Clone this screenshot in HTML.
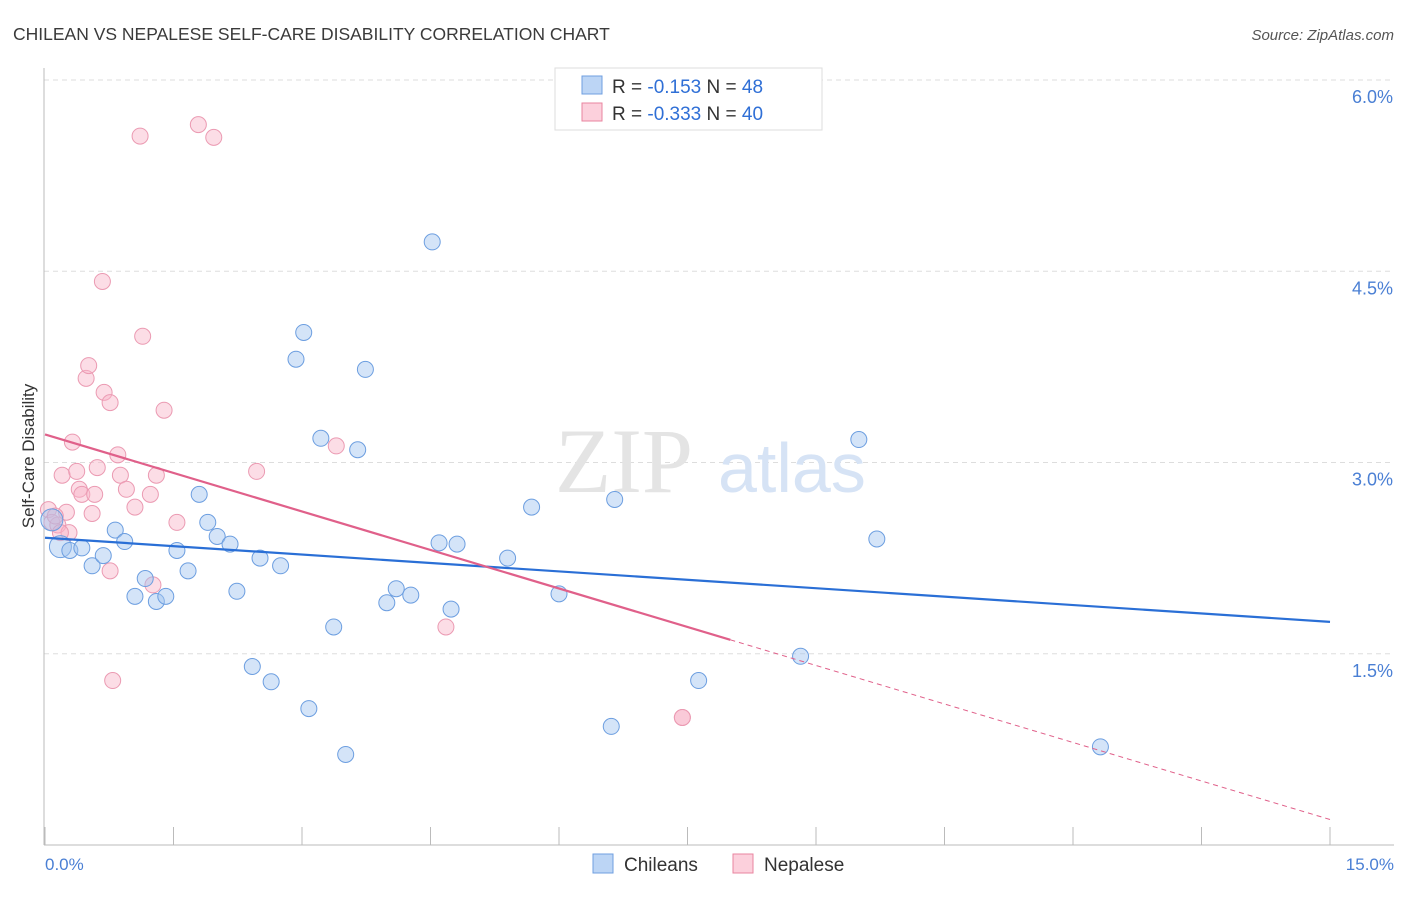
<!DOCTYPE html>
<html><head><meta charset="utf-8"><style>
body{margin:0;background:#fff;font-family:"Liberation Sans",sans-serif;}
</style></head><body>
<svg width="1406" height="892" xmlns="http://www.w3.org/2000/svg" style="font-family:'Liberation Sans',sans-serif">
<text x="13" y="40" font-size="17.5" fill="#3a3a3a">CHILEAN VS NEPALESE SELF-CARE DISABILITY CORRELATION CHART</text>
<text x="1394" y="40" font-size="15" fill="#555" font-style="italic" text-anchor="end">Source: ZipAtlas.com</text>
<g id="grid"></g>
<g><text x="555" y="492" font-size="92" fill="#e4e4e4" font-family="Liberation Serif,serif">ZIP</text><text x="718" y="492" font-size="70" fill="#d6e3f5">atlas</text></g>
<line x1="44" y1="68" x2="44" y2="845" stroke="#bbb"/>
<line x1="44" y1="845" x2="1394" y2="845" stroke="#bbb"/>
<g id="xticks"></g>
<g id="ylabels"></g>
<text x="45" y="870" font-size="17" fill="#4a7fd4">0.0%</text>
<text x="1394" y="870" font-size="17" fill="#4a7fd4" text-anchor="end">15.0%</text>
<text transform="translate(34,456) rotate(-90)" font-size="17" fill="#333" text-anchor="middle">Self-Care Disability</text>
<g id="pts"></g>
<g id="trends"></g>
<g>
<rect x="555" y="68" width="267" height="62" fill="#fff" stroke="#ddd"/>
<rect x="582" y="76" width="20" height="18" fill="#bcd5f5" stroke="#6f9fe0"/>
<rect x="582" y="103" width="20" height="18" fill="#fcd0dc" stroke="#e9849f"/>
<text x="612" y="93" font-size="19" fill="#333">R = <tspan fill="#2f6fd6">-0.153</tspan>   N = <tspan fill="#2f6fd6">48</tspan></text>
<text x="612" y="120" font-size="19" fill="#333">R = <tspan fill="#2f6fd6">-0.333</tspan>   N = <tspan fill="#2f6fd6">40</tspan></text>
</g>
<g>
<rect x="593" y="854" width="20" height="19" fill="#bcd5f5" stroke="#6f9fe0"/>
<text x="624" y="871" font-size="19" fill="#333">Chileans</text>
<rect x="733" y="854" width="20" height="19" fill="#fcd0dc" stroke="#e9849f"/>
<text x="764" y="871" font-size="19" fill="#333">Nepalese</text>
</g>
</svg>
<script>
const yTicks=[1.5,3.0,4.5,6.0];
const yTickLabels=["1.5%","3.0%","4.5%","6.0%"];
const xTicks=[0,1.5,3,4.5,6,7.5,9,10.5,12,13.5,15];
const blueX=[0.08,0.18,0.29,0.43,0.55,0.68,0.82,0.93,1.05,1.17,1.30,1.41,1.54,1.67,1.80,1.90,2.01,2.16,2.24,2.42,2.51,2.64,2.75,2.93,3.02,3.08,3.22,3.37,3.51,3.65,3.74,3.99,4.10,4.27,4.52,4.60,4.74,4.81,5.40,5.68,6.00,6.65,7.63,6.61,8.82,9.50,9.71,12.32];
const blueY=[2.55,2.34,2.31,2.33,2.19,2.27,2.47,2.38,1.95,2.09,1.91,1.95,2.31,2.15,2.75,2.53,2.42,2.36,1.99,1.40,2.25,1.28,2.19,3.81,4.02,1.07,3.19,1.71,0.71,3.10,3.73,1.90,2.01,1.96,4.73,2.37,1.85,2.36,2.25,2.65,1.97,2.71,1.29,0.93,1.48,3.18,2.40,0.77];
const pinkX=[0.04,0.08,0.15,0.20,0.25,0.28,0.32,0.37,0.40,0.43,0.48,0.51,0.55,0.58,0.61,0.67,0.69,0.76,0.76,0.79,0.85,0.88,0.95,1.05,1.11,1.14,1.23,1.26,1.30,1.39,1.54,1.79,1.97,2.47,3.40,4.68,7.44,7.44,0.18,0.12];
const pinkY=[2.63,2.53,2.51,2.90,2.61,2.45,3.16,2.93,2.79,2.75,3.66,3.76,2.60,2.75,2.96,4.42,3.55,3.47,2.15,1.29,3.06,2.90,2.79,2.65,5.56,3.99,2.75,2.04,2.90,3.41,2.53,5.65,5.55,2.93,3.13,1.71,1.00,1.00,2.45,2.58];
const blueTrend=[2.41,1.75];
const pinkTrend=[3.22,0.20];
const pinkSolidEnd=8.0;
const NS="http://www.w3.org/2000/svg";
const sx=v=>45+v/15*1285, sy=v=>845-v/6*765;
function mk(t,a,p){const e=document.createElementNS(NS,t);for(const k in a)e.setAttribute(k,a[k]);p.appendChild(e);return e;}
const grid=document.getElementById('grid'),yl=document.getElementById('ylabels'),xt=document.getElementById('xticks');
yTicks.forEach((v,i)=>{
 const l=mk('line',{x1:44,x2:1394,y1:sy(v),y2:sy(v),stroke:'#ddd','stroke-dasharray':'5,4'},grid);
 
 
 const t=mk('text',{x:1393,y:sy(v)+23,'font-size':18,fill:'#4a7fd4','text-anchor':'end'},yl);
 t.textContent=yTickLabels[i];
 
 
});
const g0=mk('line',{x1:44,x2:1394,y1:sy(6)-0,y2:sy(6),stroke:'#ddd','stroke-dasharray':'5,4'},grid);
xTicks.forEach(v=>{
 const l=mk('line',{x1:sx(v),x2:sx(v),y1:845,y2:827,stroke:'#bbb'},xt);
 
 
});
const pts=document.getElementById('pts');
pinkX.forEach((x,i)=>{
 const c=mk('circle',{cx:sx(x),cy:sy(pinkY[i]),r:8,fill:'rgba(248,180,200,0.45)',stroke:'#eb9ab2','stroke-width':1},pts);
 
 
});
blueX.forEach((x,i)=>{
 const c=mk('circle',{cx:sx(x),cy:sy(blueY[i]),r:i<2?11:8,fill:'rgba(160,196,240,0.45)',stroke:'#6c9ee0','stroke-width':1},pts);
 
 
});
const tr=document.getElementById('trends');
const bl=mk('line',{x1:sx(0),y1:sy(blueTrend[0]),x2:sx(15),y2:sy(blueTrend[1]),stroke:'#2a6fd6','stroke-width':2.2},tr);


const pm=pinkTrend[0]+(pinkTrend[1]-pinkTrend[0])*pinkSolidEnd/15;
const pl=mk('line',{x1:sx(0),y1:sy(pinkTrend[0]),x2:sx(pinkSolidEnd),y2:sy(pm),stroke:'#e0608a','stroke-width':2.2},tr);


const pd=mk('line',{x1:sx(pinkSolidEnd),y1:sy(pm),x2:sx(15),y2:sy(pinkTrend[1]),stroke:'#e0608a','stroke-width':1,'stroke-dasharray':'5,4'},tr);


</script>
</body></html>
